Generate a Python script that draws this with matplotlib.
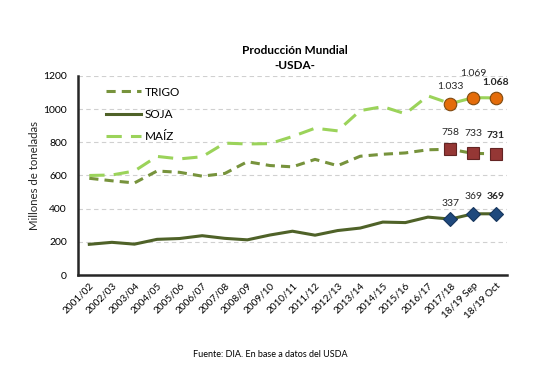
import matplotlib.pyplot as plt

plt.rcParams['font.family'] = ['Lato', 'DejaVu Sans']

campanas = ["2001/02", "2002/03", "2003/04", "2004/05", "2005/06", "2006/07",
            "2007/08", "2008/09", "2009/10", "2010/11", "2011/12", "2012/13",
            "2013/14", "2014/15", "2015/16", "2016/17", "2017/18",
            "18/19 Sep", "18/19 Oct"]
trigo = [583, 568, 555, 627, 619, 596, 612, 683, 660, 652, 697, 659,
         716, 728, 736, 755, 758, 733, 731]
soja = [185, 197, 186, 215, 220, 237, 221, 212, 241, 264, 240, 268,
        283, 319, 316, 349, 337, 369, 369]
maiz = [600, 603, 627, 715, 700, 713, 795, 790, 792, 835, 885, 869,
        991, 1015, 972, 1080, 1033, 1069, 1068]
etiq_maiz = ["1.033", "1.069", "1.068"]
etiq_trigo = ["758", "733", "731"]
etiq_soja = ["337", "369", "369"]

fig = plt.figure(figsize=(5.51, 3.76), dpi=100)
ax = fig.add_axes([0.1416, 0.2686, 0.7784, 0.5294])

x = list(range(len(campanas)))
ult = x[-3:]

ax.plot(x, trigo, color="#77933C", lw=2.2, ls=(0, (3, 2)), label="TRIGO")
ax.plot(x, soja, color="#4F6228", lw=2.2, label="SOJA")
ax.plot(x[:-2], maiz[:-2], color="#9BD35A", lw=2.2, ls=(0, (5, 3)), label="MAÍZ")
ax.plot(ult, maiz[-3:], color="#9BD35A", lw=2.2)

ax.plot(ult, maiz[-3:], ls="none", marker="o", ms=9, mfc="#E46C0A", mec="#7F4A10", mew=0.8)
ax.plot(ult, trigo[-3:], ls="none", marker="s", ms=8, mfc="#953735", mec="#632423", mew=0.8)
ax.plot(ult, soja[-3:], ls="none", marker="D", ms=7, mfc="#1F497D", mec="#17365D", mew=0.8)

# desplazamientos verticales de las etiquetas (en puntos)
off_maiz = [9, 14, 8]
off_trigo = [9, 11, 10]
off_soja = [8, 9, 9]
for i, xi in enumerate(ult):
    peso = "bold" if i == 2 else "normal"
    ax.annotate(etiq_maiz[i], (xi, maiz[-3 + i]), xytext=(0, off_maiz[i]), textcoords="offset points",
                ha="center", va="bottom", fontsize=7.5, color="#262626", fontweight=peso)
    ax.annotate(etiq_trigo[i], (xi, trigo[-3 + i]), xytext=(0, off_trigo[i]), textcoords="offset points",
                ha="center", va="bottom", fontsize=7.5, color="#262626", fontweight=peso)
    ax.annotate(etiq_soja[i], (xi, soja[-3 + i]), xytext=(0, off_soja[i]), textcoords="offset points",
                ha="center", va="bottom", fontsize=7.5, color="#262626", fontweight=peso)

ax.set_xlim(-0.5, len(campanas) - 0.5)
ax.set_ylim(0, 1200)
ax.set_yticks(range(0, 1201, 200))
ax.set_xticks(x)
ax.set_xticklabels(campanas, rotation=45, ha="right", rotation_mode="anchor", fontsize=7.2)
ax.tick_params(axis="y", labelsize=7.5, length=0, pad=8)
ax.tick_params(axis="x", length=0, pad=4)
ax.grid(axis="y", color="#D0D0D0", ls=(0, (4, 3)), lw=0.8)
ax.set_axisbelow(True)
for s in ["top", "right"]:
    ax.spines[s].set_visible(False)
for s in ["left", "bottom"]:
    ax.spines[s].set_linewidth(1.8)
    ax.spines[s].set_color("#262626")

ax.set_ylabel("Millones de toneladas", fontsize=8.2, color="#262626", labelpad=2)
ax.legend(loc="upper left", frameon=False, fontsize=8.5, handlelength=3.0,
          labelspacing=0.95, bbox_to_anchor=(0.04, 1.0), handletextpad=0.3)

fig.text(0.535, 0.81, "Producción Mundial\n-USDA-", ha="center", va="bottom",
         fontsize=8.5, fontweight="bold", linespacing=1.5)
fig.text(0.49, 0.05, "Fuente: DIA. En base a datos del USDA", ha="center", fontsize=6.5)

fig.savefig("out.png", dpi=100)
